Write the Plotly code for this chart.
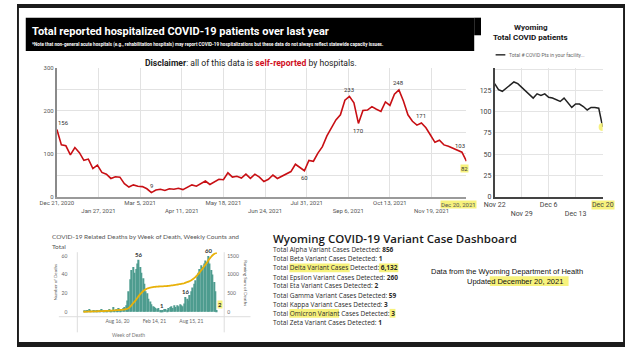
import plotly.graph_objects as go
import pandas as pd
import numpy as np

W, H = 625, 351

# ---------------- data ----------------
# Main chart: total hospitalized COVID-19 patients (every 4 days, Dec 21 2020 - Dec 20 2021)
hosp_start = "2020-12-21"
hosp_values = [156, 120, 118, 97, 114, 102, 84, 87, 65, 73,
               56, 52, 42, 46, 45, 30, 22, 27, 24, 23,
               18, 9, 15, 17, 14, 18, 17, 19, 16, 22,
               27, 24, 30, 36, 28, 35, 40, 39, 55, 45,
               47, 43, 52, 42, 52, 45, 35, 40, 50, 42,
               47, 52, 58, 75, 68, 60, 84, 82, 101, 116,
               141, 160, 178, 190, 224, 233, 218, 170, 200, 201,
               209, 203, 198, 220, 212, 238, 248, 222, 190, 175,
               166, 171, 160, 143, 126, 131, 120, 117, 112, 107,
               103, 82]
hosp_tick_dates = ["2020-12-21", "2021-01-27", "2021-03-05", "2021-04-11", "2021-05-18",
                   "2021-06-24", "2021-07-31", "2021-09-06", "2021-10-13", "2021-11-19"]
hosp_tick_text = ["Dec 21, 2020", "Jan 27, 2021", "Mar 5, 2021", "Apr 11, 2021", "May 18, 2021",
                  "Jun 24, 2021", "Jul 31, 2021", "Sep 6, 2021", "Oct 13, 2021", "Nov 19, 2021"]
hosp_label_idx = [0, 21, 55, 65, 67, 76, 81, 90, 91]

# Right chart: Wyoming total COVID patients, daily Nov 22 - Dec 20 2021
wy_start = "2021-11-22"
wy_values = [133, 126, 124, 128, 132, 135, 133, 129, 125, 121,
             116, 121, 119, 121, 117, 116, 114, 112, 116, 110,
             105, 109, 109, 106, 102, 105, 105, 104, 82]
wy_tick_dates = ["2021-11-22", "2021-11-29", "2021-12-06", "2021-12-13", "2021-12-20"]
wy_tick_text = ["Nov 22", "Nov 29", "Dec 6", "Dec 13", "Dec 20"]

# Bottom-left: weekly COVID-19 deaths
deaths_start = "2020-03-01"
deaths_weekly = [0, 1, 1, 2, 3, 1, 0, 2, 1, 1, 2, 1, 1, 3, 1, 1, 2, 1, 3, 2, 2, 5, 2, 3, 2, 4, 2, 3, 4, 5, 7,
                 12, 22, 35, 45, 48, 42, 46, 52, 56, 48, 42, 36, 30, 22, 20, 14, 11, 8, 6, 5, 4, 3, 4, 2, 1,
                 2, 3, 3, 2, 4, 5, 6, 4, 7, 5, 7, 6, 8, 7, 6, 9,
                 16, 14, 12, 18, 22, 26, 30, 34, 38, 42, 46, 50, 48, 52, 55, 52, 60, 52, 45, 40, 32, 22, 2]
deaths_tick_dates = ["2020-08-16", "2021-02-14", "2021-08-15"]
deaths_tick_text = ["Aug 16, 20", "Feb 14, 21", "Aug 15, 21"]
deaths_label_idx = [39, 55, 72, 88, 94]

# Variant dashboard
variant_names = ["Alpha", "Beta", "Delta", "Epsilon", "Eta", "Gamma", "Kappa", "Omicron", "Zeta"]
variant_counts = ["856", "1", "6,132", "260", "2", "59", "3", "3", "1"]

# ---------------- helpers ----------------
def px(x):
    return x / W

def py(y):
    return 1 - y / H

hosp_dates = pd.date_range(hosp_start, periods=len(hosp_values), freq="4D")
wy_dates = pd.date_range(wy_start, periods=len(wy_values), freq="D")
death_dates = pd.date_range(deaths_start, periods=len(deaths_weekly), freq="7D")
running_sum = np.cumsum(deaths_weekly)

fig = go.Figure()

# main line
fig.add_trace(go.Scatter(x=hosp_dates, y=hosp_values, mode="lines",
                         line=dict(color="#c80f14", width=1.6),
                         xaxis="x", yaxis="y", hoverinfo="skip"))
# right line
fig.add_trace(go.Scatter(x=wy_dates, y=wy_values, mode="lines",
                         line=dict(color="#222222", width=1.5),
                         xaxis="x2", yaxis="y2", hoverinfo="skip"))
fig.add_trace(go.Scatter(x=[wy_dates[-1]], y=[wy_values[-1]], mode="markers",
                         marker=dict(color="rgba(246,240,120,0.95)", size=8),
                         xaxis="x2", yaxis="y2", hoverinfo="skip"))
# deaths bars + running sum
fig.add_trace(go.Bar(x=death_dates, y=deaths_weekly, marker=dict(color="#4e9c8f", line=dict(width=0)),
                     xaxis="x3", yaxis="y3", hoverinfo="skip"))
fig.add_trace(go.Scatter(x=death_dates, y=running_sum, mode="lines",
                         line=dict(color="#e8b10a", width=1.8, shape="spline"),
                         xaxis="x3", yaxis="y4", hoverinfo="skip"))

tick_font_main = dict(family="Roboto", size=6, color="#555")

main_ticktext = [t if i % 2 == 0 else "<br>" + t for i, t in enumerate(hosp_tick_text)]
wy_ticktext = [wy_tick_text[0], "<br>" + wy_tick_text[1], wy_tick_text[2], "<br>" + wy_tick_text[3], ""]

y_main = [py(197), py(65)]

layout = dict(
    width=W, height=H, autosize=False,
    margin=dict(l=0, r=0, t=0, b=0, pad=0),
    paper_bgcolor="white", plot_bgcolor="white",
    showlegend=False, bargap=0.12,
    xaxis=dict(domain=[px(41), px(462)], anchor="y", type="date",
               range=[hosp_dates[0], hosp_dates[-1]],
               tickvals=hosp_tick_dates, ticktext=main_ticktext, tickangle=0,
               showgrid=True, gridcolor="#e2e2e2", gridwidth=1,
               showline=True, linecolor="#9a9a9a", linewidth=1.5,
               ticks="", tickfont=tick_font_main, zeroline=False),
    yaxis=dict(domain=y_main, anchor="x", range=[0, 300],
               tickvals=[0, 50, 100, 150, 200, 250, 300],
               ticktext=["0", "", "100", "", "200", "", "300"],
               showgrid=True, gridcolor="#e2e2e2", gridwidth=1,
               showline=True, linecolor="#8a8a8a", linewidth=2,
               ticks="", tickfont=tick_font_main, zeroline=False),
    xaxis2=dict(domain=[px(491), px(602)], anchor="y2", type="date",
                range=[wy_dates[0], wy_dates[-1]],
                tickvals=wy_tick_dates, ticktext=wy_ticktext, tickangle=0,
                showgrid=True, gridcolor="#e4e4e4",
                showline=True, linecolor="#444", linewidth=1.5,
                ticks="", tickfont=dict(family="Roboto", size=7, color="#444"), zeroline=False),
    yaxis2=dict(domain=[py(197), py(65)], anchor="x2", range=[0, 152],
                tickvals=[0, 25, 50, 75, 100, 125, 150],
                ticktext=["0", "25", "50", "75", "100", "125", ""],
                showgrid=True, gridcolor="#e4e4e4",
                showline=True, linecolor="#444", linewidth=1.5,
                ticks="", tickfont=dict(family="Roboto", size=7, color="#444"), zeroline=False),
    xaxis3=dict(domain=[px(62), px(213)], anchor="y3", type="date",
                range=["2020-01-31", "2022-01-24"],
                tickvals=deaths_tick_dates, ticktext=deaths_tick_text, tickangle=0,
                showgrid=False, showline=False, ticks="",
                tickfont=dict(family="Lato", size=5, color="#666"), zeroline=False),
    yaxis3=dict(domain=[py(320), py(254)], anchor="x3", range=[-5.3, 64],
                tickvals=[0, 20, 40, 60], showgrid=False, showline=False, ticks="",
                ticklabelstandoff=9,
                tickfont=dict(family="Lato", size=5, color="#666"), zeroline=False),
    yaxis4=dict(overlaying="y3", anchor="x3", side="right", range=[-5.3 * 25, 64 * 25],
                tickvals=[0, 500, 1000, 1500], showgrid=False, showline=False, ticks="",
                ticklabelstandoff=2,
                tickfont=dict(family="Lato", size=5, color="#666"), zeroline=False),
)
fig.update_layout(**layout)

shapes = []
def rect(x0, y0, x1, y1, color, layer="below", line_color=None):
    shapes.append(dict(type="rect", xref="paper", yref="paper",
                       x0=px(x0), x1=px(x1), y0=py(y1), y1=py(y0),
                       fillcolor=color, line=dict(width=0 if line_color is None else 1,
                                                  color=line_color or color), layer=layer))

def hline(x0, x1, y, color, width=1):
    shapes.append(dict(type="line", xref="paper", yref="paper", x0=px(x0), x1=px(x1),
                       y0=py(y), y1=py(y), line=dict(color=color, width=width)))

def vline(x, y0, y1, color, width=1):
    shapes.append(dict(type="line", xref="paper", yref="paper", x0=px(x), x1=px(x),
                       y0=py(y0), y1=py(y1), line=dict(color=color, width=width)))

# outer dark frame
rect(0, 0, 625, 4, "#1c1c1c", layer="above")
rect(0, 346, 625, 351, "#1c1c1c", layer="above")
rect(0, 0, 2, 351, "#1c1c1c", layer="above")
rect(623, 0, 625, 351, "#1c1c1c", layer="above")
# header box
rect(9, 14, 470, 48, "#000000")
rect(470, 14, 477, 32, "#000000")

# tableau frame lines
hline(43, 240, 320, "#dddddd")
vline(62, 254, 336, "#dddddd")
vline(213, 254, 336, "#dddddd")

# highlights in variant list
hl = "#f7f27c"
rect(280, 265.5, 342, 274.5, hl)
rect(372, 265.5, 392, 274.5, hl)
rect(280, 312, 331, 321, hl)
rect(383, 312, 389, 321, hl)
# highlight for updated date
rect(486, 278.5, 567, 288.5, hl)

# right-chart legend line
hline(492, 502, 52, "#333", 1.5)

fig.update_layout(shapes=shapes)

ann = []
def txt(x, y, text, size, color="#222", family="Roboto", xanchor="left", yanchor="middle",
        bold=False, weight=None, bg=None, angle=0):
    f = dict(family=family, size=size, color=color)
    if weight:
        f["weight"] = weight
    d = dict(xref="paper", yref="paper", x=px(x), y=py(y), text=("<b>%s</b>" % text) if bold else text,
             showarrow=False, xanchor=xanchor, yanchor=yanchor, font=f, textangle=angle,
             borderpad=0)
    if bg:
        d["bgcolor"] = bg
    ann.append(d)

# header
txt(14, 28, "Total reported hospitalized COVID-19 patients over last year", 11, "white", bold=True)
txt(14, 41, "*Note that non-general acute hospitals (e.g., rehabilitation hospitals) may report COVID-19 "
            "hospitalizations but these data do not always reflect statewide capacity issues.",
    4.6, "white", bold=True)
# disclaimer
txt(241, 60, "<b>Disclaimer</b>: all of this data is <b><span style='color:#d0101e'>self-reported</span></b> by hospitals.",
    8.6, "#222", xanchor="center")

# main chart data labels
for k, i in enumerate(hosp_label_idx):
    v = hosp_values[i]
    below = i in (55, 67, 91)
    d = dict(xref="x", yref="y", x=hosp_dates[i], y=v, text=str(v), showarrow=False,
             font=dict(family="Roboto", size=6, color="#333"),
             yshift=-7 if below else 7, xanchor="left" if i == 0 else ("right" if i == 91 else "center"),
             borderpad=0)
    if i == 91:
        d["bgcolor"] = "#f7f27c"
        d["xanchor"] = "center"
        d["xshift"] = -2
    if i == 90:
        d["xshift"] = -2
    ann.append(d)
# Dec 20 highlighted tick
ann.append(dict(xref="x", yref="paper", x=hosp_dates[-1], y=py(200.5), text="Dec 20, 2021", showarrow=False,
                xanchor="center", yanchor="top", xshift=-8, font=dict(family="Roboto", size=6, color="#555"),
                bgcolor="#f7f27c", borderpad=0))

# right chart titles / legend
txt(528, 24, "Wyoming", 8, "#222", xanchor="center", bold=True)
txt(528, 34, "Total COVID patients", 8, "#111", xanchor="center", bold=True)
txt(505, 52, "Total # COVID Pts in your facility...", 5, "#666")
ann.append(dict(xref="x2", yref="paper", x=wy_dates[-1], y=py(201), text="Dec 20", showarrow=False,
                xanchor="center", yanchor="top", font=dict(family="Roboto", size=7, color="#444"),
                bgcolor="#f7f27c", borderpad=0))

# tableau chart
txt(35, 238, "COVID-19 Related Deaths by Week of Death, Weekly Counts and", 6.5, "#555", family="Lato")
txt(35, 248, "Total", 6.5, "#555", family="Lato")
txt(40, 285, "Number of Deaths", 4.5, "#555", family="Lato", xanchor="center", angle=-90)
txt(235, 285, "Running Sum of Deaths", 4.5, "#555", family="Lato", xanchor="center", angle=90)
txt(115, 339, "Week of Death", 5, "#777", family="Lato", xanchor="center")
for i in deaths_label_idx:
    v = deaths_weekly[i]
    d = dict(xref="x3", yref="y3", x=death_dates[i], y=v, text="<b>%d</b>" % v, showarrow=False,
             font=dict(family="Lato", size=6, color="#333"), yshift=5, borderpad=0)
    if i == 94:
        d["bgcolor"] = "#f7f27c"
        d["xshift"] = 3
    ann.append(d)

# variant dashboard
txt(262, 240, "Wyoming COVID-19 Variant Case Dashboard", 11.5, "#1a1a1a", family="Open Sans", weight=600)
line_y = [251, 260.5, 270, 279.5, 288.5, 298, 307, 316.5, 326]
for name, cnt, yy in zip(variant_names, variant_counts, line_y):
    txt(262, yy, "Total %s Variant Cases Detected: <b>%s</b>" % (name, cnt), 6.5, "#2a2a2a", family="Open Sans")

# data source
txt(504, 274, "Data from the Wyoming Department of Health", 7.5, "#111", family="Liberation Sans", xanchor="center")
txt(512, 283.5, "Updated December 20, 2021", 7.5, "#111", family="Liberation Sans", xanchor="center")

fig.update_layout(annotations=ann)
fig.write_html("out.html")
